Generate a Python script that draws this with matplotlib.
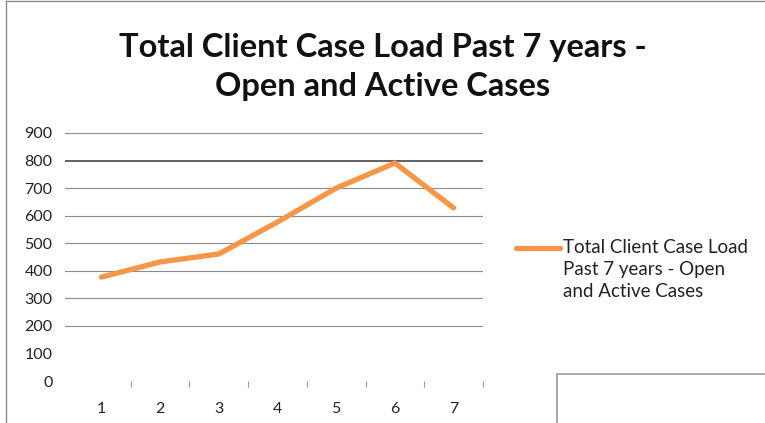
import matplotlib.pyplot as plt
from matplotlib.lines import Line2D
from matplotlib.patches import Rectangle

# Données
years = [1, 2, 3, 4, 5, 6, 7]
case_load = [377, 432, 461, 577, 700, 791, 628]
y_ticks = [0, 100, 200, 300, 400, 500, 600, 700, 800, 900]
grid_values = [200, 300, 400, 500, 600, 700, 800, 900]
title = 'Total Client Case Load Past 7 years -\nOpen and Active Cases'
legend_label = 'Total Client Case Load\nPast 7 years - Open\nand Active Cases'

plt.rcParams['font.family'] = ['Lato', 'DejaVu Sans']

W, H = 765, 423
fig = plt.figure(figsize=(W / 100, H / 100), dpi=100)

# zone de tracé (en pixels -> fraction de la figure)
left, right, top, bottom = 65, 483, 133, 381
ax = fig.add_axes([left / W, 1 - bottom / H, (right - left) / W, (bottom - top) / H])

orange = '#F79646'
ax.plot(years, case_load, color=orange, linewidth=3.8,
        solid_capstyle='round', solid_joinstyle='round', zorder=3)

# grille horizontale
for v in grid_values:
    ax.axhline(v, color='#555555' if v == 800 else '#8c8c8c',
               linewidth=1.3 if v == 800 else 0.8, zorder=1)

ax.set_ylim(0, 900)
ax.set_xlim(0.38, 7.5)
ax.set_yticks(y_ticks)
ax.set_xticks(years)
ax.set_xticks([1.5, 2.5, 3.5, 4.5, 5.5, 6.5, 7.5], minor=True)

ax.tick_params(axis='y', length=0, pad=9, labelsize=11.5, labelcolor='#222222')
ax.tick_params(axis='x', which='major', length=0, pad=15, labelsize=11.5, labelcolor='#222222')
ax.tick_params(axis='x', which='minor', length=4, width=0.8, color='#999999', direction='out')

for s in ax.spines.values():
    s.set_visible(False)
ax.set_facecolor('none')

# titre
fig.text(383 / W, 1 - 67 / H, title, ha='center', va='center',
         fontsize=23.5, fontweight='bold', color='#111111', linespacing=1.38)

# légende (trait + texte, aligné sur la première ligne comme dans Excel)
fig.add_artist(Line2D([516 / W, 560 / W], [1 - 248 / H, 1 - 248 / H], color=orange,
                      linewidth=3.8, solid_capstyle='round'))
fig.text(563 / W, 1 - 239 / H, legend_label, ha='left', va='top',
         fontsize=13.5, color='#222222', linespacing=1.36)

# bordures du cadre du graphique
fig.add_artist(Line2D([6 / W, 1], [1 - 1 / H, 1 - 1 / H], color='#888888', linewidth=1))
fig.add_artist(Line2D([6 / W, 6 / W], [0, 1 - 1 / H], color='#888888', linewidth=1))
fig.add_artist(Rectangle((557 / W, -0.01), 1, 1 - 374 / H + 0.01, fill=False,
                         edgecolor='#999999', linewidth=1.2, transform=fig.transFigure))

fig.savefig('out.png', dpi=100)
